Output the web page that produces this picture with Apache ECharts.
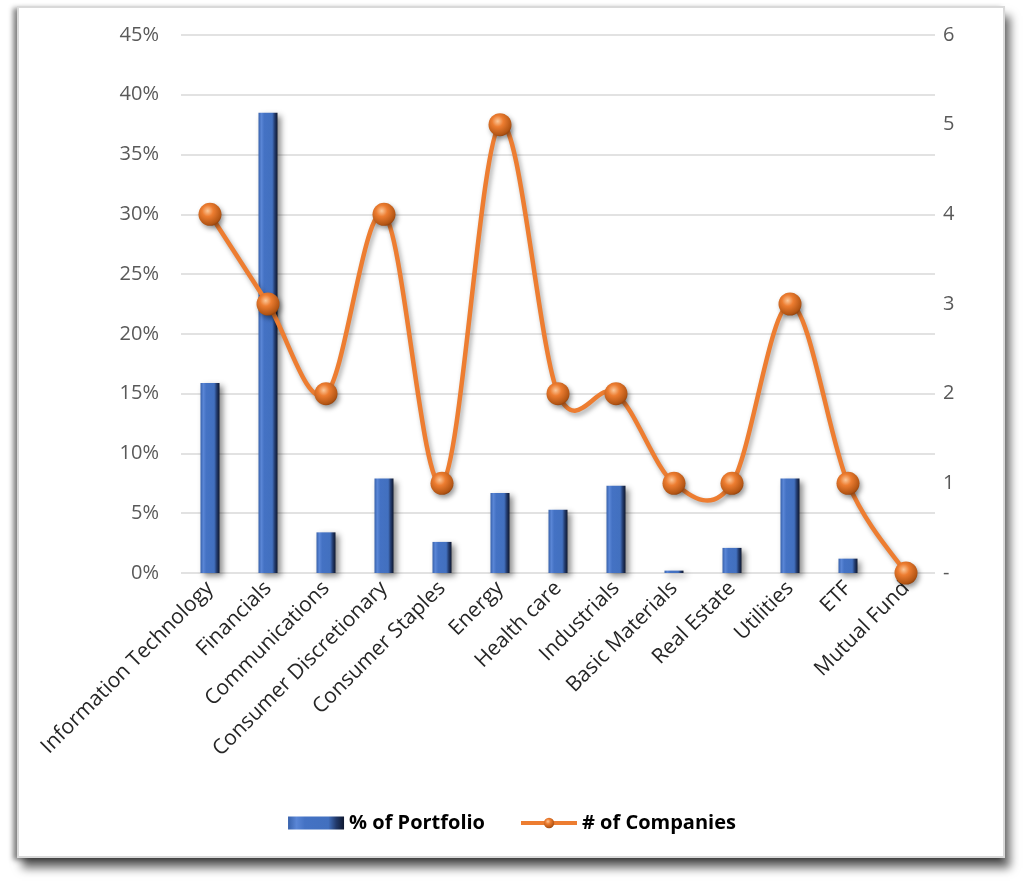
<!DOCTYPE html>
<html>
<head>
<meta charset="utf-8">
<script src="https://cdn.jsdelivr.net/npm/echarts@6/dist/echarts.min.js"></script>
<style>
  html, body { margin: 0; padding: 0; background: #fff; }
  #frame {
    position: absolute; left: 17px; top: 6px; width: 984px; height: 848px;
    border: 2px solid #d9d9d9; background: #fff;
    box-shadow: -4px 2px 5px rgba(0,0,0,0.45), 5px 10px 9px rgba(0,0,0,0.6);
  }
  #chart { position: absolute; left: 0; top: 0; width: 1024px; height: 890px; }
</style>
</head>
<body>
<div id="frame"></div>
<div id="chart"></div>
<script>
// sector data
const categories = [
  'Information Technology', 'Financials', 'Communications', 'Consumer Discretionary',
  'Consumer Staples', 'Energy', 'Health care', 'Industrials', 'Basic Materials',
  'Real Estate', 'Utilities', 'ETF', 'Mutual Fund'
]
const portfolioPct = [15.9, 38.5, 3.4, 7.9, 2.6, 6.7, 5.3, 7.3, 0.2, 2.1, 7.9, 1.2, 0]
const companyCount = [4, 3, 2, 4, 1, 5, 2, 2, 1, 1, 3, 1, 0]

const ORANGE = '#ed7d31'
const chart = echarts.init(document.getElementById('chart'))

// bevelled blue bar fill
const barFill = new echarts.graphic.LinearGradient(0, 0, 1, 0, [
  { offset: 0, color: '#3761ab' },
  { offset: 0.15, color: '#5a86d6' },
  { offset: 0.3, color: '#4472c4' },
  { offset: 0.72, color: '#4270bf' },
  { offset: 0.86, color: '#22396a' },
  { offset: 1, color: '#0e1830' }
])

// orange sphere marker
const ballFill = new echarts.graphic.RadialGradient(0.4, 0.35, 0.7, [
  { offset: 0, color: '#fbc89a' },
  { offset: 0.35, color: ORANGE },
  { offset: 0.85, color: '#b35514' },
  { offset: 1, color: '#8a3d0a' }
])

/**
 * Excel-style smoothed segment (Catmull-Rom -> cubic bezier)
 * from point i to point i+1, drawn through the chart's own axes
 */
function renderSegment(params, api) {
  const i = params.dataIndex
  const n = companyCount.length
  if (i >= n - 1) return null
  const pt = k => api.coord([Math.max(0, Math.min(n - 1, k)), companyCount[Math.max(0, Math.min(n - 1, k))]])
  const p0 = pt(i - 1), p1 = pt(i), p2 = pt(i + 1), p3 = pt(i + 2)
  return {
    type: 'bezierCurve',
    shape: {
      x1: p1[0], y1: p1[1],
      cpx1: p1[0] + (p2[0] - p0[0]) / 6, cpy1: p1[1] + (p2[1] - p0[1]) / 6,
      cpx2: p2[0] - (p3[0] - p1[0]) / 6, cpy2: p2[1] - (p3[1] - p1[1]) / 6,
      x2: p2[0], y2: p2[1]
    },
    style: {
      fill: null, stroke: ORANGE, lineWidth: 4.5, lineCap: 'round',
      shadowColor: 'rgba(0,0,0,0.35)', shadowBlur: 5, shadowOffsetX: 2, shadowOffsetY: 3
    }
  }
}

chart.setOption({
  animation: false,
  textStyle: { fontFamily: 'Open Sans' },
  grid: { left: 181, right: 89, top: 35, bottom: 317 },
  legend: {
    bottom: 52,
    left: 'center',
    itemGap: 34,
    itemWidth: 56,
    itemHeight: 13,
    textStyle: { fontSize: 20, fontWeight: 'bold', color: '#000' },
    data: [
      { name: '% of Portfolio', icon: 'rect' },
      { name: '# of Companies', lineStyle: { color: ORANGE, width: 4, opacity: 1 } }
    ]
  },
  xAxis: {
    type: 'category',
    data: categories,
    axisLine: { show: false },
    axisTick: { show: false },
    axisLabel: { rotate: 45, fontSize: 21, color: '#262626', margin: 12, interval: 0 }
  },
  yAxis: [
    {
      type: 'value',
      min: 0, max: 45, interval: 5,
      axisLabel: { formatter: '{value}%', fontSize: 20, color: '#595959', margin: 22 },
      splitLine: { lineStyle: { color: '#d9d9d9', width: 1.5 } }
    },
    {
      type: 'value',
      min: 0, max: 6, interval: 1,
      axisLabel: {
        formatter: v => (v === 0 ? '-' : String(v)),
        fontSize: 20, color: '#595959', margin: 8
      },
      splitLine: { show: false }
    }
  ],
  series: [
    {
      name: '% of Portfolio',
      type: 'bar',
      data: portfolioPct,
      barWidth: 19,
      itemStyle: {
        color: barFill,
        shadowColor: 'rgba(0,0,0,0.45)',
        shadowBlur: 6,
        shadowOffsetX: 3,
        shadowOffsetY: 3
      }
    },
    {
      // markers (the curve itself is drawn by the custom series below)
      name: '# of Companies',
      type: 'line',
      yAxisIndex: 1,
      data: companyCount,
      symbol: 'circle',
      symbolSize: 23,
      lineStyle: { width: 0, opacity: 0 },
      itemStyle: {
        color: ballFill,
        borderWidth: 0,
        shadowColor: 'rgba(0,0,0,0.4)', shadowBlur: 5, shadowOffsetX: 2, shadowOffsetY: 3
      },
      z: 4
    },
    {
      name: '# of Companies',
      type: 'custom',
      yAxisIndex: 1,
      data: companyCount.map((v, i) => [i, v]),
      renderItem: renderSegment,
      z: 3
    }
  ]
})
</script>
</body>
</html>
